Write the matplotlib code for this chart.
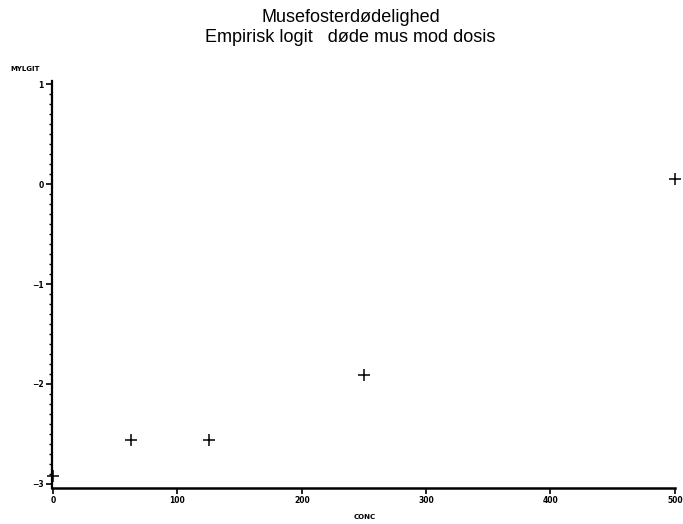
import matplotlib.pyplot as plt
from matplotlib.ticker import MultipleLocator

# dose (conc) and empirical logit of dead foetuses
conc = [0, 62.5, 125, 250, 500]
mylogit = [-2.92, -2.56, -2.56, -1.91, 0.05]

x_ticks = [0, 100, 200, 300, 400, 500]
y_ticks = [-3, -2, -1, 0, 1]

fig = plt.figure(figsize=(6.83, 5.24), dpi=100)
ax = fig.add_axes([0.076, 0.069, 0.912, 0.776])

ax.plot(conc, mylogit, linestyle="none", marker="+", markersize=9,
        markeredgewidth=1.1, color="black", clip_on=False, zorder=5)

ax.set_xlim(-1, 500)
ax.set_ylim(-3.04, 1.03)
ax.set_xticks(x_ticks)
ax.set_yticks(y_ticks)
ax.set_yticklabels(["\u22123", "\u22122", "\u22121", "0", "1"])
ax.yaxis.set_minor_locator(MultipleLocator(0.1))

for side in ("top", "right"):
    ax.spines[side].set_visible(False)
ax.spines["bottom"].set_linewidth(1.8)
ax.spines["left"].set_linewidth(1.6)

ax.tick_params(axis="both", which="major", direction="out", length=4,
               width=1.2, labelsize=5.5, pad=2)
ax.tick_params(axis="y", which="minor", direction="out", length=2.5, width=1.0)
for lbl in ax.get_xticklabels() + ax.get_yticklabels():
    lbl.set_fontweight("bold")

fig.text(0.513, 0.966, "Musefosterdødelighed", ha="center", va="center",
         fontsize=13, family="Liberation Sans")
fig.text(0.513, 0.928, "Empirisk logit   døde mus mod dosis", ha="center",
         va="center", fontsize=13, family="Liberation Sans")
fig.text(0.015, 0.865, "MYLGIT", fontsize=5, fontweight="bold")
fig.text(0.534, 0.01, "CONC", ha="center", fontsize=5, fontweight="bold")

fig.savefig("out.png", dpi=100)
